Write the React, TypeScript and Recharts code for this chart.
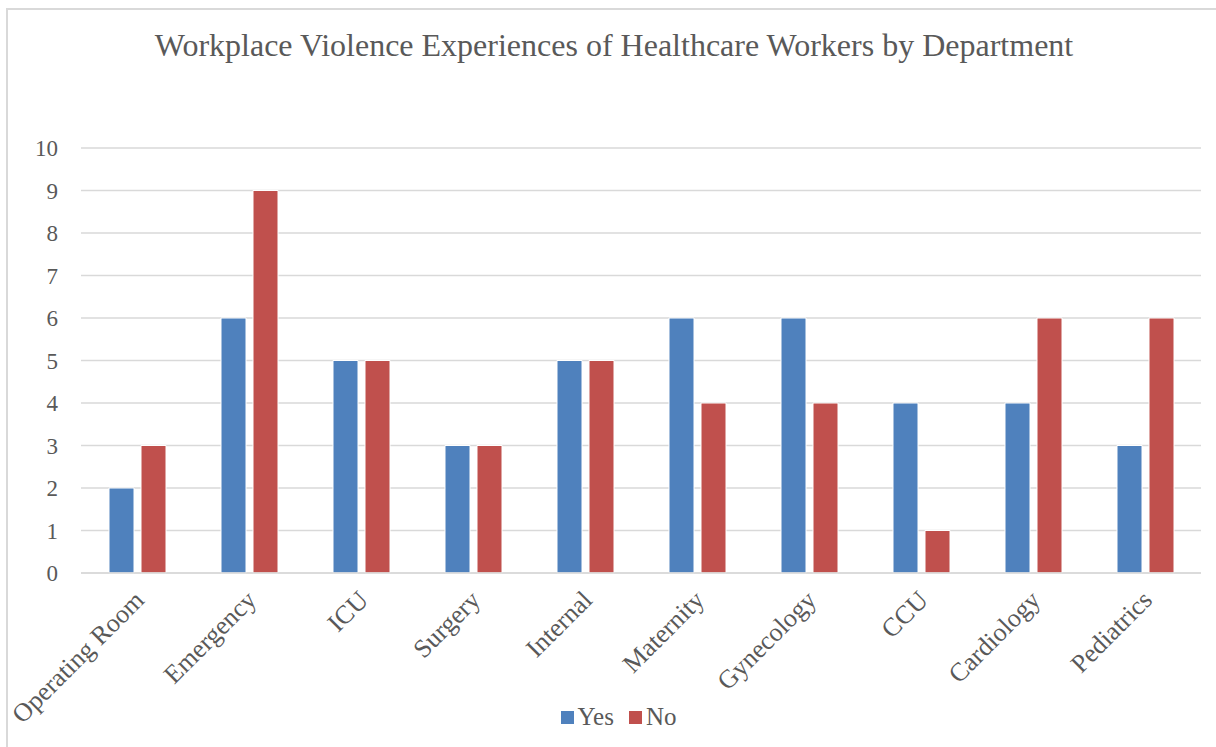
import React from "react";
import { BarChart, Bar, XAxis, YAxis, CartesianGrid, Legend } from "recharts";

const departments = ["Operating Room", "Emergency", "ICU", "Surgery", "Internal", "Maternity", "Gynecology", "CCU", "Cardiology", "Pediatrics"];
const yesValues = [2, 6, 5, 3, 5, 6, 6, 4, 4, 3];
const noValues = [3, 9, 5, 3, 5, 4, 4, 1, 6, 6];
const yTicks = [0, 1, 2, 3, 4, 5, 6, 7, 8, 9, 10];
const seriesNames = ["Yes", "No"];
const seriesColors = ["#4F81BD", "#C0504D"];
const title = "Workplace Violence Experiences of Healthcare Workers by Department";

const data = departments.map((d, i) => ({ name: d, Yes: yesValues[i], No: noValues[i] }));

const FONT = "'Liberation Serif', 'Times New Roman', serif";
const TEXT = "#595959";

const XTick = (props: any) => {
  const { x, y, payload } = props;
  return (
    <g transform={`translate(${x + 3},${y + 15})`}>
      <text x={0} y={0} dy={8} textAnchor="end" transform="rotate(-45)" fill={TEXT} fontSize={26} fontFamily={FONT}>
        {payload.value}
      </text>
    </g>
  );
};

const LegendContent = () => (
  <div style={{ display: "flex", justifyContent: "center", alignItems: "center", fontFamily: FONT, fontSize: 25, color: TEXT, paddingLeft: 36 }}>
    {seriesNames.map((n, i) => (
      <div key={n} style={{ display: "flex", alignItems: "center", marginRight: i === 0 ? 15 : 0 }}>
        <span style={{ display: "inline-block", width: 13, height: 13, background: seriesColors[i], marginRight: 4 }} />
        <span>{n}</span>
      </div>
    ))}
  </div>
);

export default function App() {
  return (
    <div style={{ position: "absolute", left: 0, top: 0, width: 1216, height: 747, overflow: "hidden", background: "#fff" }}>
      <div style={{ position: "absolute", left: 6, top: 8, width: 1300, height: 900, borderTop: "2px solid #D9D9D9", borderLeft: "2px solid #D9D9D9" }} />
      <div style={{ position: "absolute", left: 0, top: 27, width: 1228, textAlign: "center", fontFamily: FONT, fontSize: 32, color: TEXT, whiteSpace: "nowrap" }}>
        {title}
      </div>
      <div style={{ position: "absolute", left: 0, top: 0 }}>
        <BarChart width={1216} height={747} data={data} margin={{ top: 148, right: 15, bottom: 14, left: 0 }} barSize={25} barGap={7}>
          <CartesianGrid vertical={false} stroke="#D9D9D9" strokeWidth={1.5} />
          <XAxis dataKey="name" tick={<XTick />} tickLine={false} axisLine={{ stroke: "#D9D9D9", strokeWidth: 1.5 }} height={130} interval={0} />
          <YAxis domain={[0, 10]} ticks={yTicks} width={81} axisLine={false} tickLine={false} tickMargin={17} tick={{ fill: TEXT, fontSize: 23, fontFamily: FONT }} interval={0} />
          <Legend verticalAlign="bottom" height={30} content={<LegendContent />} />
          <Bar dataKey="Yes" fill={seriesColors[0]} stroke="#fff" strokeWidth={1} isAnimationActive={false} />
          <Bar dataKey="No" fill={seriesColors[1]} stroke="#fff" strokeWidth={1} isAnimationActive={false} />
        </BarChart>
      </div>
    </div>
  );
}
